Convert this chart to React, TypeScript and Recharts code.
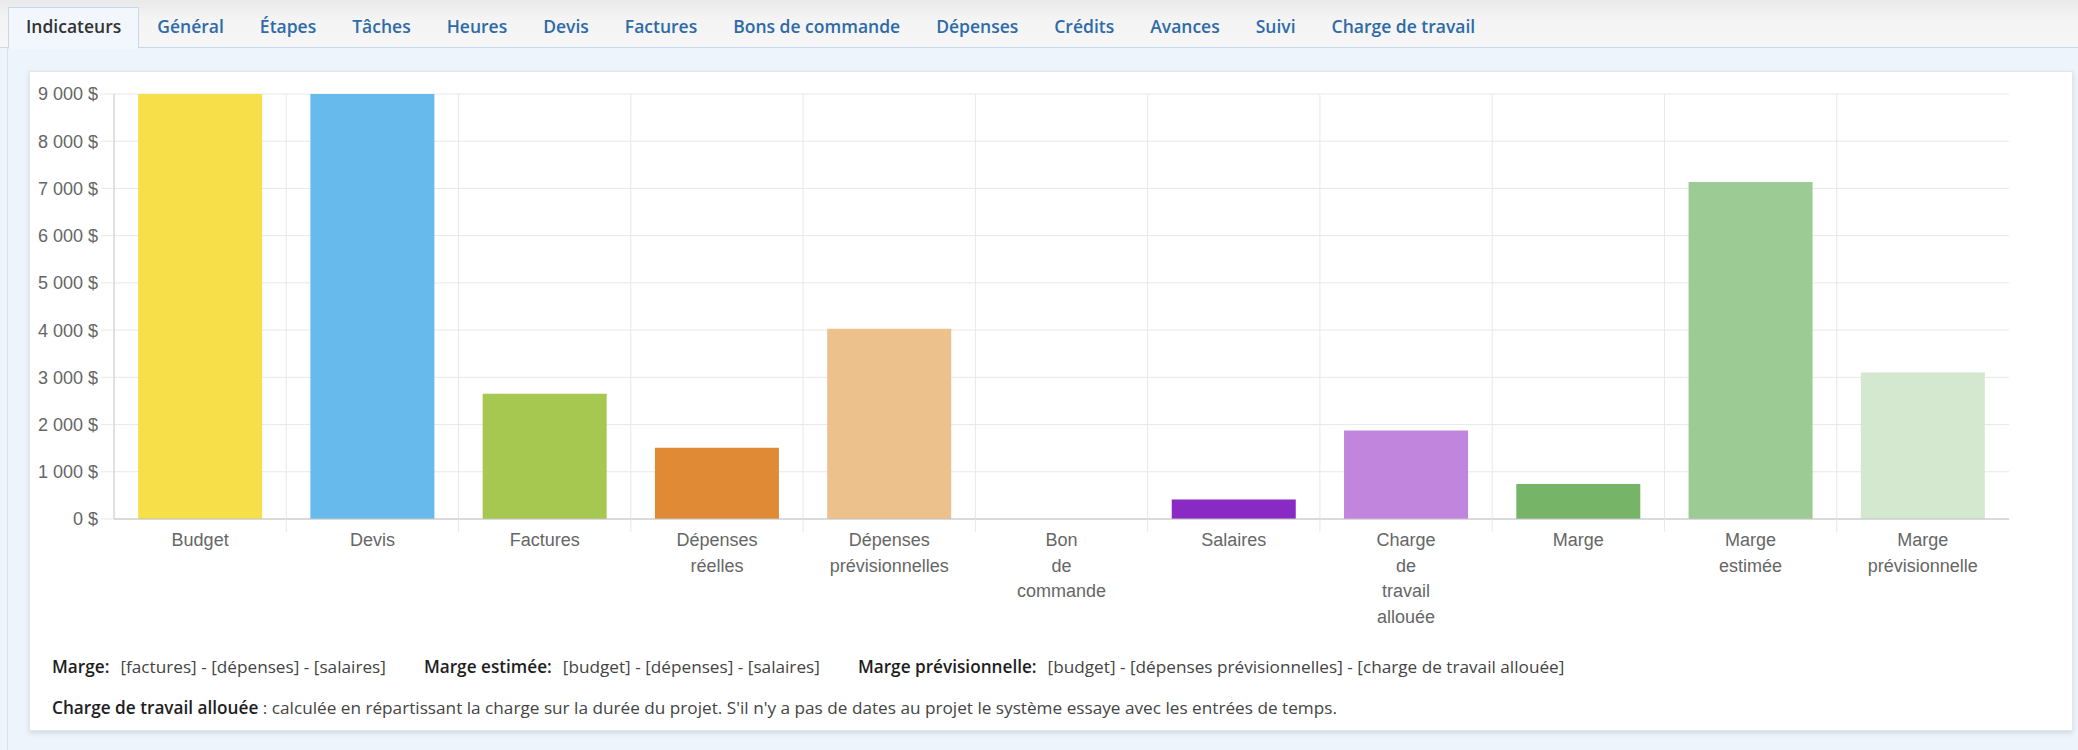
import React from "react";
import { Bar, BarChart, CartesianGrid, Cell, XAxis, YAxis } from "recharts";

const categories = [
  "Budget",
  "Devis",
  "Factures",
  "Dépenses réelles",
  "Dépenses prévisionnelles",
  "Bon de commande",
  "Salaires",
  "Charge de travail allouée",
  "Marge",
  "Marge estimée",
  "Marge prévisionnelle",
];

// how Chart.js wrapped each label
const categoryLines = [
  ["Budget"],
  ["Devis"],
  ["Factures"],
  ["Dépenses", "réelles"],
  ["Dépenses", "prévisionnelles"],
  ["Bon", "de", "commande"],
  ["Salaires"],
  ["Charge", "de", "travail", "allouée"],
  ["Marge"],
  ["Marge", "estimée"],
  ["Marge", "prévisionnelle"],
];

const values = [9000, 9000, 2650, 1510, 4030, 0, 415, 1875, 740, 7135, 3100];

const barColors = [
  "#f7df4a",
  "#66bbec",
  "#a6c851",
  "#e08a35",
  "#edc18b",
  "#999999",
  "#8a2ac4",
  "#c185de",
  "#76b467",
  "#9ccc93",
  "#d4e8cf",
];

const yTicks = [0, 1000, 2000, 3000, 4000, 5000, 6000, 7000, 8000, 9000];

const tabs = [
  "Indicateurs",
  "Général",
  "Étapes",
  "Tâches",
  "Heures",
  "Devis",
  "Factures",
  "Bons de commande",
  "Dépenses",
  "Crédits",
  "Avances",
  "Suivi",
  "Charge de travail",
];

const data = categories.map((name, i) => ({ name, value: values[i] }));

const CHART_W = 2078;
const CHART_H = 600;
const CHART_TOP = 60;
const Y_AXIS_W = 114;
const MARGIN = { top: 34, right: 69, bottom: 21, left: 0 };
const X_AXIS_H = 120;
const PLOT_W = CHART_W - MARGIN.left - MARGIN.right - Y_AXIS_W;
const HALF_BAND = PLOT_W / categories.length / 2;

const AXIS_FONT = '"Liberation Sans", Arial, Helvetica, sans-serif';
const GRID = "#e8e8e8";
const AXIS = "#c2c2c2";

const fmtMoney = (v: number) =>
  String(v).replace(/\B(?=(\d{3})+(?!\d))/g, "\u00a0") + "\u00a0$";

function XTick(props: any) {
  const { x, y, payload, index } = props;
  const lines = categoryLines[index] ?? [String(payload.value)];
  return (
    <g>
      {index > 0 && <line x1={x - HALF_BAND} x2={x - HALF_BAND} y1={y} y2={y + 13} stroke={GRID} />}
      {lines.map((l, i) => (
        <text
          key={i}
          x={x}
          y={y + 21 + i * 25.5}
          textAnchor="middle"
          dominantBaseline="central"
          fill="#666"
          fontSize={18}
          fontFamily={AXIS_FONT}
        >
          {l}
        </text>
      ))}
    </g>
  );
}

const boldStyle = { color: "#1e1e1e", fontWeight: 600 };

export default function App() {
  return (
    <div
      style={{
        position: "absolute",
        left: 0,
        top: 0,
        width: 2078,
        height: 750,
        overflow: "hidden",
        background: "#eef4fc",
        fontFamily: '"Open Sans", sans-serif',
      }}
    >
      {/* tab bar */}
      <div
        style={{
          position: "absolute",
          left: 0,
          top: 0,
          width: 2078,
          height: 47,
          background: "linear-gradient(#e9e9e9, #f4f4f4 40%, #f6f6f6)",
          borderBottom: "1px solid #c9d7ec",
        }}
      />
      <div style={{ position: "absolute", left: 8, top: 7, display: "flex", height: 41 }}>
        {tabs.map((t, i) => (
          <div
            key={t}
            style={{
              padding: "0 17px",
              height: 40,
              lineHeight: "37px",
              fontSize: 17.5,
              fontWeight: 600,
              color: i === 0 ? "#333" : "#2f6aa8",
              background: i === 0 ? "#f2f7fd" : "transparent",
              border: i === 0 ? "1px solid #c9d7ec" : "1px solid transparent",
              borderBottom: i === 0 ? "1px solid #f2f7fd" : "1px solid transparent",
              whiteSpace: "nowrap",
            }}
          >
            {t}
          </div>
        ))}
      </div>
      <div style={{ position: "absolute", left: 7, top: 48, width: 1, height: 702, background: "#d6e2f1" }} />

      {/* card */}
      <div
        style={{
          position: "absolute",
          left: 29,
          top: 71,
          width: 2042,
          height: 658,
          background: "#fff",
          border: "1px solid #e1e7ef",
          boxShadow: "0 2px 5px rgba(0,0,0,0.12)",
        }}
      />

      <div style={{ position: "absolute", left: 0, top: CHART_TOP }}>
        <BarChart width={CHART_W} height={CHART_H} data={data} margin={MARGIN} barCategoryGap="14%">
          <CartesianGrid
            stroke={GRID}
            verticalCoordinatesGenerator={({ offset }: any) =>
              categories.slice(1).map((_, i) => offset.left + ((i + 1) * offset.width) / categories.length)
            }
          />
          <XAxis
            dataKey="name"
            height={X_AXIS_H}
            interval={0}
            tickLine={false}
            tickSize={0}
            tickMargin={0}
            axisLine={{ stroke: AXIS }}
            tick={<XTick />}
          />
          <YAxis
            width={Y_AXIS_W}
            domain={[0, 9000]}
            ticks={yTicks}
            interval={0}
            tickFormatter={fmtMoney}
            tickSize={13}
            tickMargin={3}
            tickLine={{ stroke: GRID }}
            axisLine={{ stroke: AXIS }}
            tick={{ fill: "#666", fontSize: 18, fontFamily: AXIS_FONT }}
          />
          <Bar dataKey="value" isAnimationActive={false}>
            {data.map((d, i) => (
              <Cell key={d.name} fill={barColors[i]} />
            ))}
          </Bar>
        </BarChart>
      </div>

      {/* footnotes */}
      <div style={{ position: "absolute", left: 52, top: 655, fontSize: 17.2, color: "#444", whiteSpace: "nowrap", lineHeight: "24px" }}>
        <b style={boldStyle}>Marge:</b>
        <span style={{ marginLeft: 11, marginRight: 38 }}>[factures] - [dépenses] - [salaires]</span>
        <b style={boldStyle}>Marge estimée:</b>
        <span style={{ marginLeft: 11, marginRight: 38 }}>[budget] - [dépenses] - [salaires]</span>
        <b style={boldStyle}>Marge prévisionnelle:</b>
        <span style={{ marginLeft: 11 }}>[budget] - [dépenses prévisionnelles] - [charge de travail allouée]</span>
      </div>
      <div style={{ position: "absolute", left: 52, top: 696, fontSize: 17.2, color: "#444", whiteSpace: "nowrap", lineHeight: "24px" }}>
        <b style={boldStyle}>Charge de travail allouée</b>
        <span> : calculée en répartissant la charge sur la durée du projet. S'il n'y a pas de dates au projet le système essaye avec les entrées de temps.</span>
      </div>
    </div>
  );
}
